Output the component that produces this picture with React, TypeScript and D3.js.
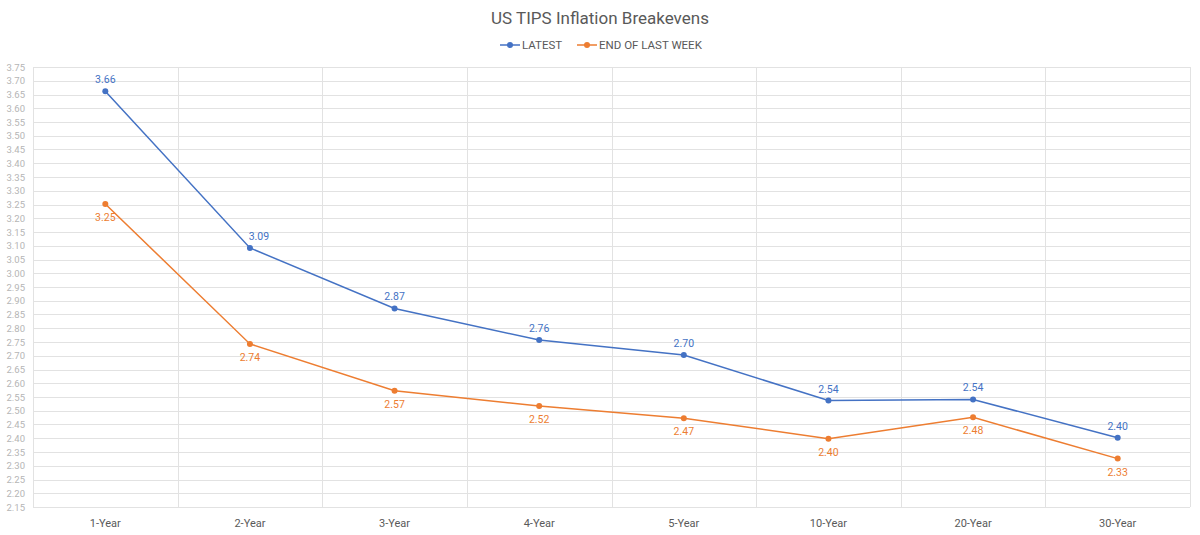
import React, { useEffect, useRef } from "react";
import * as d3 from "d3";

const categories = ["1-Year", "2-Year", "3-Year", "4-Year", "5-Year", "10-Year", "20-Year", "30-Year"];
const latest = [3.662, 3.092, 2.872, 2.757, 2.703, 2.537, 2.541, 2.402];
const lastWeek = [3.252, 2.743, 2.573, 2.517, 2.473, 2.398, 2.476, 2.326];
const yTicks = d3.range(2.15, 3.7501, 0.05);

const seriesNames = ["LATEST", "END OF LAST WEEK"];
const seriesColors = ["#4472C4", "#ED7D31"];

export default function App() {
  const ref = useRef<SVGSVGElement>(null);

  useEffect(() => {
    const width = 1200;
    const height = 535;
    const margin = { top: 67, right: 10, bottom: 28, left: 33 };
    const font = "Roboto, 'DejaVu Sans', sans-serif";

    const svg = d3.select(ref.current);
    svg.selectAll("*").remove();

    const x = d3
      .scaleBand()
      .domain(categories)
      .range([margin.left, width - margin.right]);
    const y = d3
      .scaleLinear()
      .domain([2.15, 3.75])
      .range([height - margin.bottom, margin.top]);

    // horizontal grid
    svg
      .append("g")
      .selectAll("line")
      .data(yTicks)
      .join("line")
      .attr("x1", margin.left)
      .attr("x2", width - margin.right)
      .attr("y1", (d) => Math.round(y(d)) + 0.5)
      .attr("y2", (d) => Math.round(y(d)) + 0.5)
      .attr("stroke", "#e2e2e2")
      .attr("stroke-width", 1);

    // vertical grid at band edges
    const edges = categories.map((c) => x(c)!).concat([width - margin.right]);
    svg
      .append("g")
      .selectAll("line")
      .data(edges)
      .join("line")
      .attr("x1", (d) => Math.round(d) + 0.5)
      .attr("x2", (d) => Math.round(d) + 0.5)
      .attr("y1", margin.top)
      .attr("y2", height - margin.bottom)
      .attr("stroke", "#e2e2e2");

    // y labels
    svg
      .append("g")
      .selectAll("text")
      .data(yTicks)
      .join("text")
      .attr("x", margin.left - 8)
      .attr("y", (d) => y(d) + 3.5)
      .attr("text-anchor", "end")
      .attr("font-family", font)
      .attr("font-size", 9.5)
      .attr("fill", "#b5b5b5")
      .text((d) => d.toFixed(2));

    // x labels
    svg
      .append("g")
      .selectAll("text")
      .data(categories)
      .join("text")
      .attr("x", (d) => x(d)! + x.bandwidth() / 2)
      .attr("y", height - 8)
      .attr("text-anchor", "middle")
      .attr("font-family", font)
      .attr("font-size", 11)
      .attr("fill", "#595959")
      .text((d) => d);

    const line = d3
      .line<number>()
      .x((_, i) => x(categories[i])! + x.bandwidth() / 2)
      .y((d) => y(d));

    [latest, lastWeek].forEach((values, si) => {
      const color = seriesColors[si];
      const g = svg.append("g");
      g.append("path")
        .attr("d", line(values))
        .attr("fill", "none")
        .attr("stroke", color)
        .attr("stroke-width", 1.5);
      g.selectAll("circle")
        .data(values)
        .join("circle")
        .attr("cx", (_, i) => x(categories[i])! + x.bandwidth() / 2)
        .attr("cy", (d) => y(d))
        .attr("r", 3)
        .attr("fill", color);
      g.selectAll("text")
        .data(values)
        .join("text")
        .attr("x", (_, i) => x(categories[i])! + x.bandwidth() / 2 + (si === 0 && i === 1 ? 9 : 0))
        .attr("y", (d) => (si === 0 ? y(d) - 8 : y(d) + 17))
        .attr("text-anchor", "middle")
        .attr("font-family", font)
        .attr("font-size", 10.5)
        .attr("fill", color)
        .text((d) => d.toFixed(2));
    });

    // title
    svg
      .append("text")
      .attr("x", width / 2)
      .attr("y", 24)
      .attr("text-anchor", "middle")
      .attr("font-family", font)
      .attr("font-size", 17)
      .attr("fill", "#595959")
      .text("US TIPS Inflation Breakevens");

    // legend
    const legendX = [500, 577];
    seriesNames.forEach((name, i) => {
      const lg = svg.append("g").attr("transform", `translate(${legendX[i]},45)`);
      lg.append("line")
        .attr("x1", 0)
        .attr("x2", 20)
        .attr("stroke", seriesColors[i])
        .attr("stroke-width", 1.5);
      lg.append("circle").attr("cx", 10).attr("r", 3).attr("fill", seriesColors[i]);
      lg.append("text")
        .attr("x", 22)
        .attr("y", 4)
        .attr("font-family", font)
        .attr("font-size", 11.5)
        .attr("fill", "#595959")
        .text(name);
    });
  }, []);

  return (
    <svg
      ref={ref}
      width={1200}
      height={535}
      style={{ position: "absolute", left: 0, top: 0, background: "#fff" }}
    />
  );
}
